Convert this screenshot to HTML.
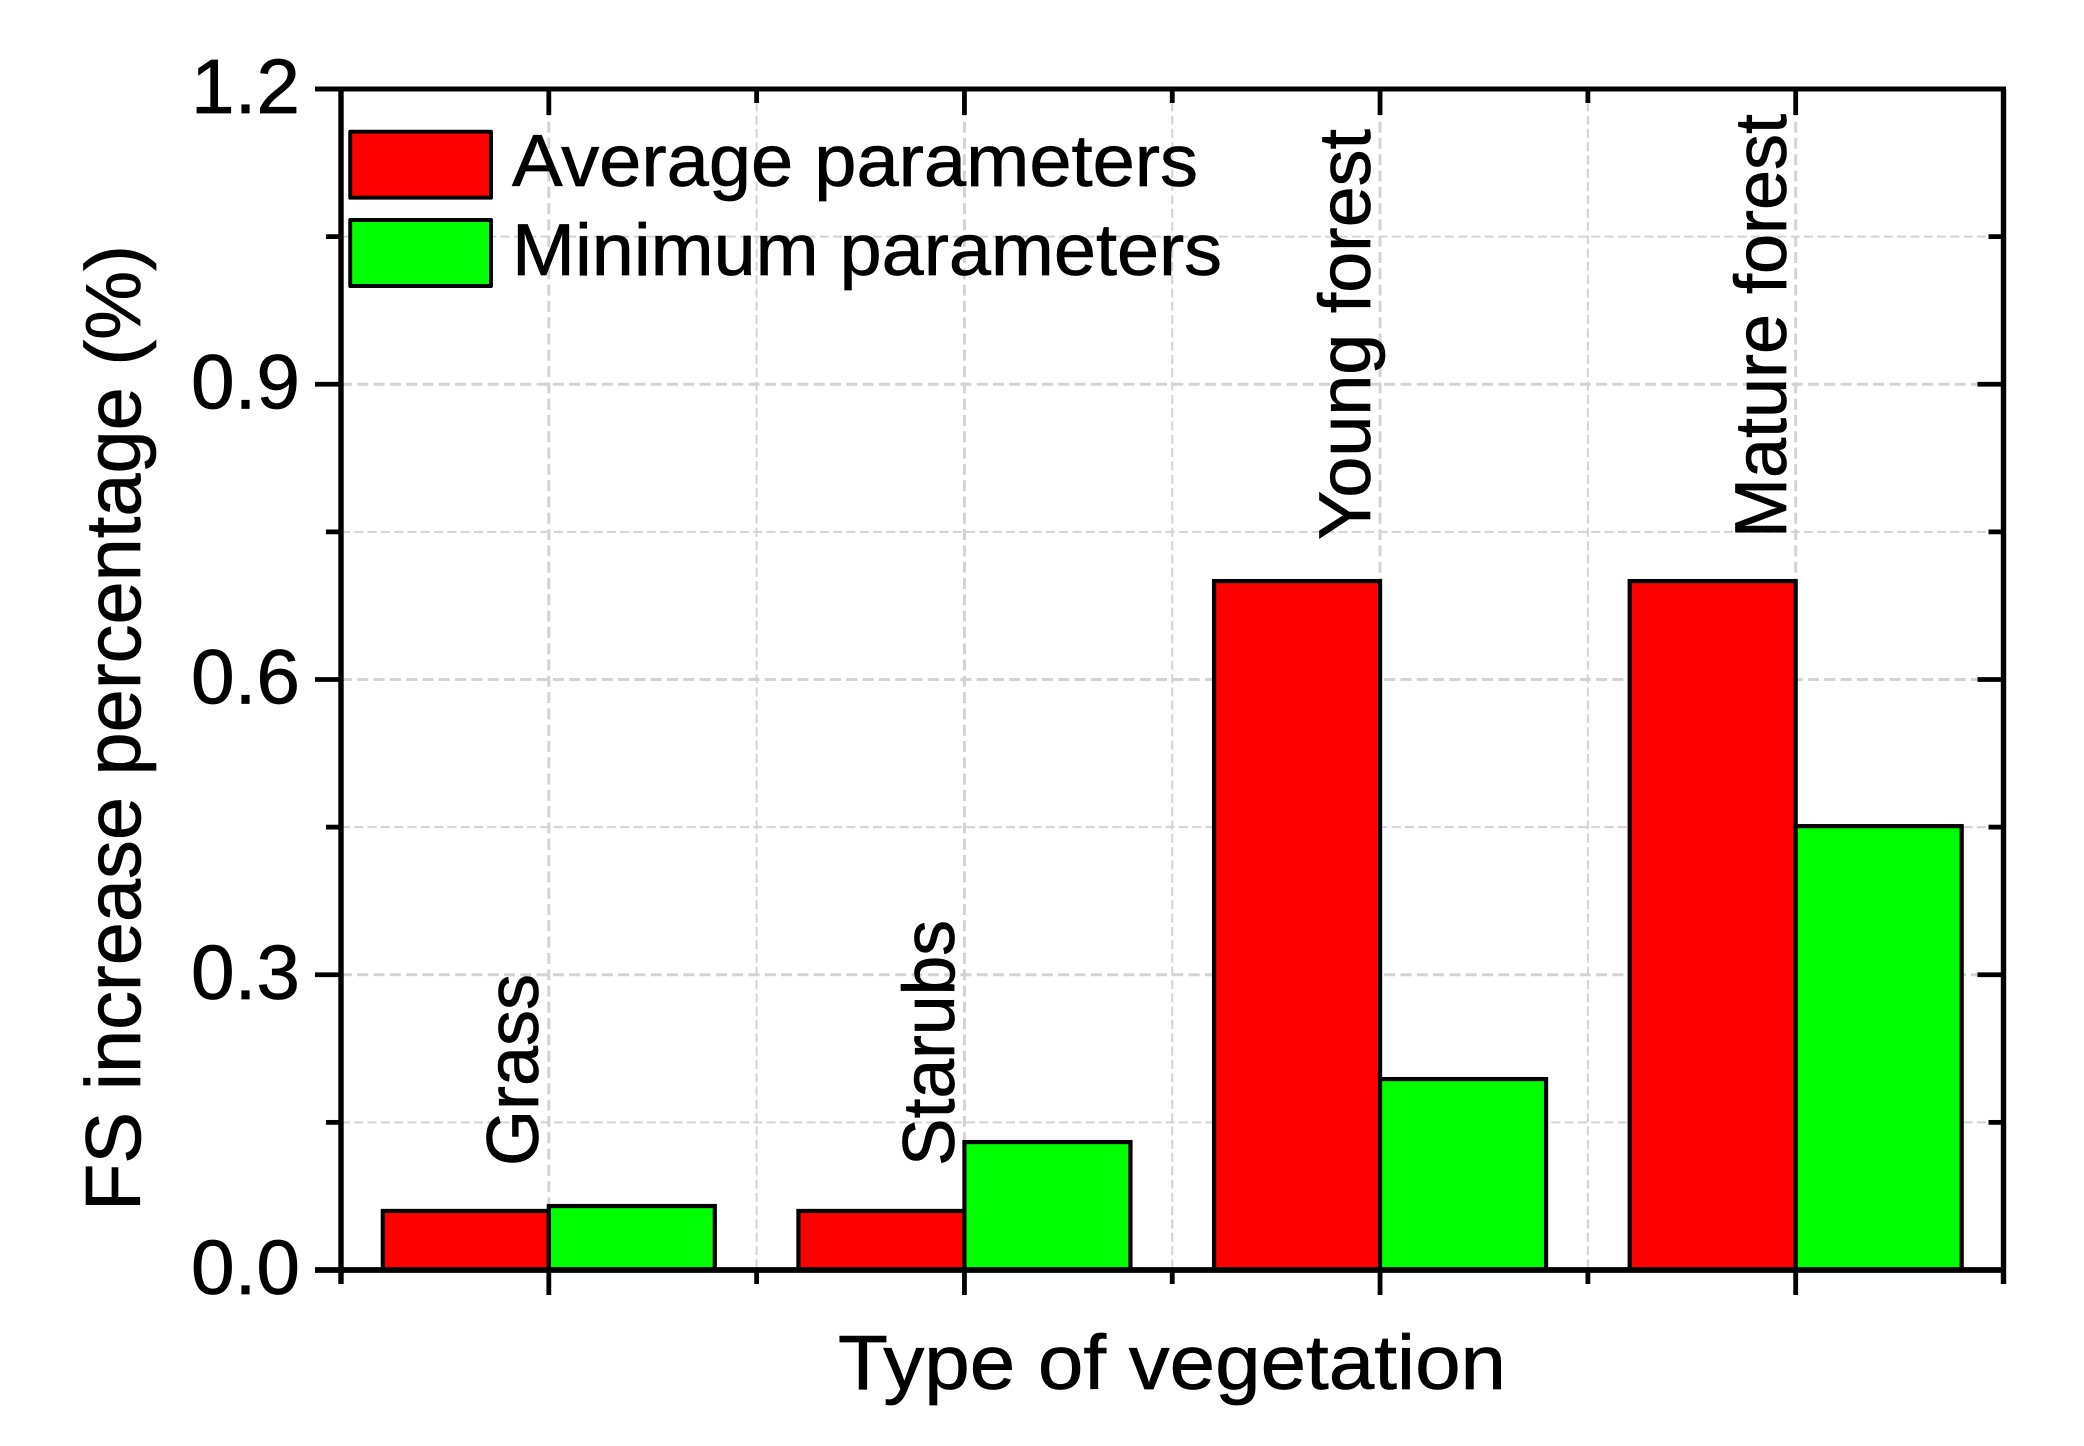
<!DOCTYPE html>
<html lang="en">
<head>
<meta charset="utf-8">
<title>FS increase percentage by type of vegetation</title>
<style>
html,body{margin:0;padding:0;background:#fff;}
svg{display:block;}
text{font-family:"Liberation Sans",Arial,sans-serif;fill:#000;stroke:#000;stroke-width:0.7px;}
</style>
</head>
<body>
<svg id="chart" xmlns="http://www.w3.org/2000/svg" width="2084" height="1446" viewBox="0 0 2084 1446">
  <rect x="0" y="0" width="2084" height="1446" fill="#fff"/>
  <g id="grid"></g>
  <g id="bars"></g>
  <g id="catLabels"></g>
  <g id="legend"></g>
  <g id="axes"></g>
  <g id="tickLabels"></g>
  <text transform="translate(140,1211) rotate(-90)" font-size="78" textLength="966" lengthAdjust="spacingAndGlyphs">FS increase percentage (%)</text>
  <text x="838" y="1389" font-size="77" textLength="668" lengthAdjust="spacingAndGlyphs">Type of vegetation</text>
</svg>
<script>
const categories = ['Grass', 'Starubs', 'Young forest', 'Mature forest'];
const averageValues = [0.06, 0.06, 0.7, 0.7];
const minimumValues = [0.065, 0.13, 0.194, 0.451];
const yMajorTicks = [0, 0.3, 0.6, 0.9, 1.2];
const yMinorTicks = [0.15, 0.45, 0.75, 1.05];
const yTickLabels = ['0.0', '0.3', '0.6', '0.9', '1.2'];
const seriesNames = ['Average parameters', 'Minimum parameters'];

const NS = 'http://www.w3.org/2000/svg';
const plot = {left: 341, right: 2003.5, top: 89, bottom: 1270};
const yMax = 1.2;
const barWidth = 166;
const catCount = categories.length;
const catStep = (plot.right - plot.left) / catCount;

function yScale(v) { return plot.bottom - (v / yMax) * (plot.bottom - plot.top); }
function xScale(i) { return plot.left + catStep * (i + 0.5); }
function xBoundary(i) { return plot.left + catStep * i; }

function make(parent, tag, attrs, txt) {
  const el = document.createElementNS(NS, tag);
  for (const k in attrs) el.setAttribute(k, attrs[k]);
  if (txt !== undefined) el.textContent = txt;
  parent.appendChild(el);
  return el;
}
function line(parent, x1, y1, x2, y2, stroke, width, dash) {
  const a = {x1: x1, y1: y1, x2: x2, y2: y2, stroke: stroke, 'stroke-width': width};
  if (dash) a['stroke-dasharray'] = dash;
  return make(parent, 'line', a);
}

const gridG = document.getElementById('grid');
const barsG = document.getElementById('bars');
const catG = document.getElementById('catLabels');
const legendG = document.getElementById('legend');
const axesG = document.getElementById('axes');
const tickG = document.getElementById('tickLabels');
const GRID = '#d3d3d3';
const INK = '#000';

/* grid */
yMajorTicks.forEach(function (v) {
  if (v === 0 || v === yMax) return;
  const el = line(gridG, plot.left, yScale(v), plot.right, yScale(v), GRID, 3, '11 5.3');
  
  
});
yMinorTicks.forEach(function (v) {
  const el = line(gridG, plot.left, yScale(v), plot.right, yScale(v), GRID, 2, '9 4.3');
  
  
});
categories.forEach(function (c, i) {
  const el = line(gridG, xScale(i), plot.top, xScale(i), plot.bottom, GRID, 3, '11 5.3');
  
  
  if (i > 0) {
    const m = line(gridG, xBoundary(i), plot.top, xBoundary(i), plot.bottom, GRID, 2, '9 4.3');
    
    
  }
});

/* bars */
const barStyle = {stroke: INK, 'stroke-width': 4.2, 'stroke-linejoin': 'miter'};
categories.forEach(function (c, i) {
  const cx = xScale(i);
  const top1 = yScale(averageValues[i]);
  const r = make(barsG, 'rect', Object.assign({x: cx - barWidth, y: top1, width: barWidth, height: plot.bottom - top1, fill: '#ff0000'}, barStyle));
  
  
  const top2 = yScale(minimumValues[i]);
  const g = make(barsG, 'rect', Object.assign({x: cx, y: top2, width: barWidth, height: plot.bottom - top2, fill: '#00ff00'}, barStyle));
  
  
});

/* category labels (rotated text above each group) */
const catBaselineX = [538, 954, 1370, 1786];
const catStartY = [1166, 1166, 540, 538];
const catLengths = [192, 246, 411, 424];
categories.forEach(function (c, i) {
  const t = make(catG, 'text', {
    transform: 'translate(' + catBaselineX[i] + ',' + catStartY[i] + ') rotate(-90)',
    'font-size': 73,
    textLength: catLengths[i],
    lengthAdjust: 'spacingAndGlyphs'
  }, c);
  
  
});

/* legend */
const legendFill = ['#ff0000', '#00ff00'];
const legendRowTop = [131.7, 220];
const legendBaseline = [186, 275];
const legendLen = [686, 710];
seriesNames.forEach(function (n, i) {
  const s = make(legendG, 'rect', {x: 350.2, y: legendRowTop[i], width: 140.8, height: 66, fill: legendFill[i], stroke: INK, 'stroke-width': 3.9, 'stroke-linejoin': 'round'});
  
  
  const t = make(legendG, 'text', {x: 512, y: legendBaseline[i], 'font-size': 73, textLength: legendLen[i], lengthAdjust: 'spacingAndGlyphs'}, n);
  
  
});

/* axes frame */
const axisW = 5;
const frameT = line(axesG, plot.left - 26, plot.top, plot.right + 2.5, plot.top, INK, axisW);


const frameB = line(axesG, plot.left - 26, plot.bottom, plot.right + 2.5, plot.bottom, INK, axisW + 0.8);


const frameL = line(axesG, plot.left, plot.top, plot.left, plot.bottom + 14, INK, axisW + 0.4);


const frameR = line(axesG, plot.right, plot.top, plot.right, plot.bottom + 14, INK, axisW + 0.4);



/* y ticks */
const tickW = 4.8;
yMajorTicks.forEach(function (v) {
  const y = yScale(v);
  const l = line(axesG, plot.left - 26, y, plot.left, y, INK, tickW);
  
  
  const r = line(axesG, plot.right - 26, y, plot.right, y, INK, tickW);
  
  
});
yMinorTicks.forEach(function (v) {
  const y = yScale(v);
  const l = line(axesG, plot.left - 15, y, plot.left, y, INK, tickW);
  
  
  const r = line(axesG, plot.right - 15, y, plot.right, y, INK, tickW);
  
  
});

/* x ticks */
categories.forEach(function (c, i) {
  const x = xScale(i);
  const b = line(axesG, x, plot.bottom, x, plot.bottom + 25, INK, tickW);
  
  
  const t = line(axesG, x, plot.top, x, plot.top + 26, INK, tickW);
  
  
  if (i > 0) {
    const xm = xBoundary(i);
    const bm = line(axesG, xm, plot.bottom, xm, plot.bottom + 14, INK, tickW);
    
    
    const tm = line(axesG, xm, plot.top, xm, plot.top + 14, INK, tickW);
    
    
  }
});

/* y tick labels */
yMajorTicks.forEach(function (v, i) {
  const t = make(tickG, 'text', {x: 300, y: yScale(v) + 24, 'font-size': 77, 'text-anchor': 'end', textLength: 109, lengthAdjust: 'spacingAndGlyphs'}, yTickLabels[i]);
  
  
});
</script>
</body>
</html>
